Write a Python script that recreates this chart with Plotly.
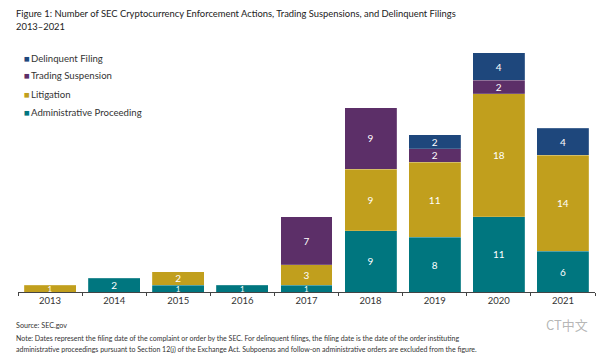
import plotly.graph_objects as go

years = ["2013", "2014", "2015", "2016", "2017", "2018", "2019", "2020", "2021"]
admin = [0, 2, 1, 1, 1, 9, 8, 11, 6]
litigation = [1, 0, 2, 0, 3, 9, 11, 18, 14]
suspension = [0, 0, 0, 0, 7, 9, 2, 2, 0]
delinquent = [0, 0, 0, 0, 0, 0, 2, 4, 4]

series = [
    ("Administrative Proceeding", admin, "#00767F"),
    ("Litigation", litigation, "#C19F1D"),
    ("Trading Suspension", suspension, "#5C2F68"),
    ("Delinquent Filing", delinquent, "#1E477C"),
]

W, H = 600, 360
ML, MR, MT, MB = 18, 5, 45, 68
PW, PH = W - ML - MR, H - MT - MB


def px(x):
    return (x - ML) / PW


def py(y):
    return (H - MB - y) / PH


FONT = "Lato"
fig = go.Figure()
for name, vals, col in series:
    fig.add_trace(go.Bar(
        x=years, y=[v if v else None for v in vals], name=name,
        marker=dict(color=col, line=dict(color="rgba(255,255,255,0.35)", width=0.5)),
        text=[str(v) if v else "" for v in vals],
        textposition="inside", insidetextanchor="middle", textangle=0,
        textfont=dict(color="white", size=[8 if v == 1 else 10 for v in vals], family=FONT),
        constraintext="none", showlegend=False, hoverinfo="x+y+name",
    ))


def ann(text, x, y, size, color="#333", anchor="left", family=FONT):
    return dict(text=text, x=px(x), y=py(y), xref="paper", yref="paper",
                xanchor=anchor, yanchor="middle", showarrow=False,
                font=dict(size=size, color=color, family=family))


annotations = [
    ann("Figure 1: Number of SEC Cryptocurrency Enforcement Actions, Trading Suspensions, and Delinquent Filings", 14, 13, 9.4, "#222"),
    ann("2013\u20132021", 14, 27, 9.4, "#222"),
    ann("Source: SEC.gov", 14, 325, 7.2),
    ann("Note: Dates represent the filing date of the complaint or order by the SEC. For delinquent filings, the filing date is the date of the order instituting", 14, 338, 7),
    ann("administrative proceedings pursuant to Section 12(j) of the Exchange Act. Subpoenas and follow-on administrative orders are excluded from the figure.", 14, 349, 7),
    ann("CT中文", 590, 324, 13, "rgba(120,120,120,0.55)", "right", "Noto Sans CJK SC"),
]
# manual legend (top entry first)
for i, (name, vals, col) in enumerate(reversed(series)):
    annotations.append(ann(f"<span style='color:{col}'>■</span>\u2009{name}", 22, 58 + 18 * i, 9.6))

fig.update_layout(
    width=W, height=H, barmode="stack", bargap=0.19,
    margin=dict(l=ML, r=MR, t=MT, b=MB),
    paper_bgcolor="white", plot_bgcolor="white",
    font=dict(family=FONT, color="#333"),
    showlegend=False,
    annotations=annotations,
    xaxis=dict(type="category", range=[-0.5, 8.5], showline=True, linecolor="#444", linewidth=1,
               ticks="outside", tickson="boundaries", ticklen=3, tickcolor="#444",
               tickfont=dict(size=9.5, color="#333", family=FONT), showgrid=False),
    yaxis=dict(range=[0, PH / 6.83], visible=False, showgrid=False),
)
fig.write_html("out.html", config={"displayModeBar": False},
               post_script="document.body.style.margin='0';")
